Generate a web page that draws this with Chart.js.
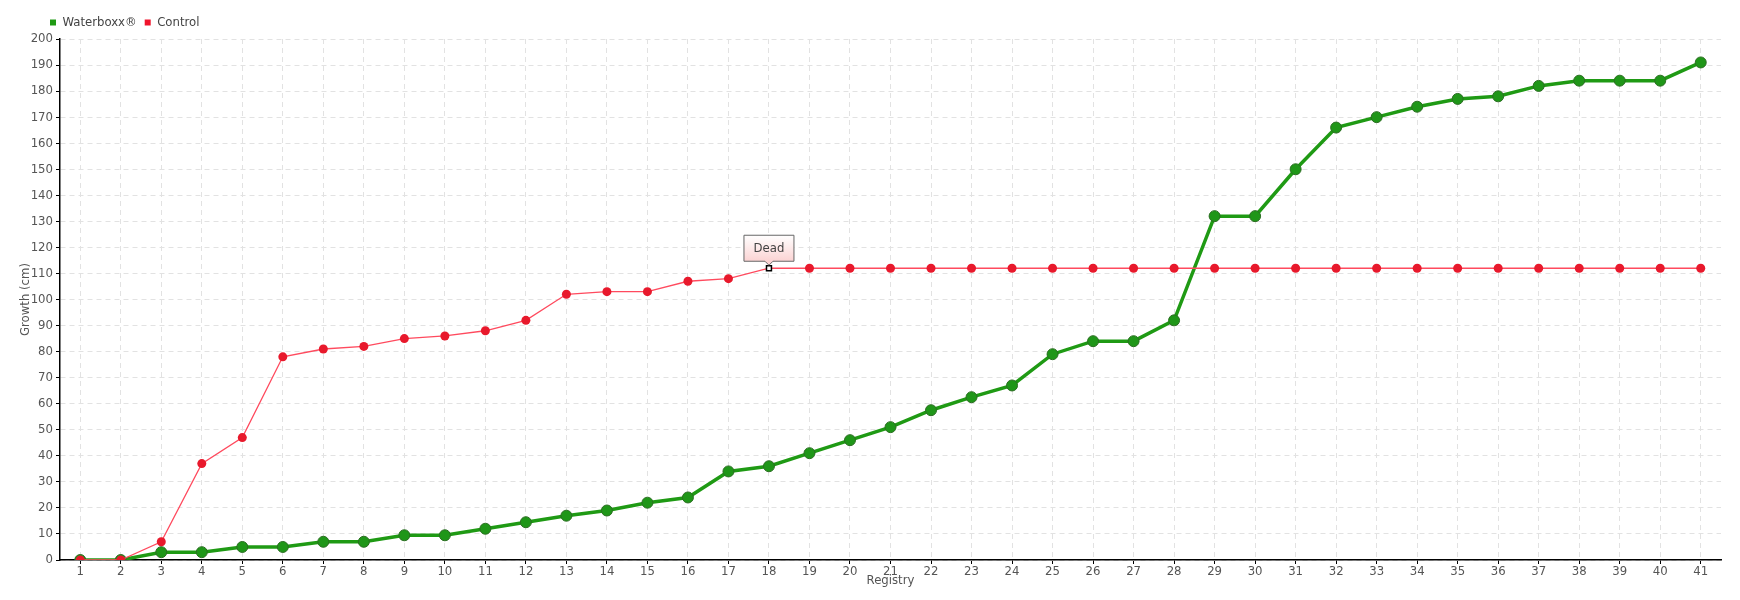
<!DOCTYPE html>
<html>
<head>
<meta charset="utf-8">
<script src="https://cdn.jsdelivr.net/npm/chart.js@4.4.0/dist/chart.umd.min.js"></script>
<style>
  html, body { margin: 0; padding: 0; background: #fff; }
  canvas { display: block; }
</style>
</head>
<body>
<canvas id="myChart" width="1740" height="600"></canvas>
<script>
// registry numbers on the x axis
var registry = [1,2,3,4,5,6,7,8,9,10,11,12,13,14,15,16,17,18,19,20,21,22,23,24,25,26,27,28,29,30,31,32,33,34,35,36,37,38,39,40,41];

// growth in cm
var waterboxx = [0,0,3,3,5,5,7,7,9.5,9.5,12,14.5,17,19,22,24,34,36,41,46,51,57.5,62.5,67,79,84,84,92,132,132,150,166,170,174,177,178,182,184,184,184,191];
var control = [0,0,7,37,47,78,81,82,85,86,88,92,102,103,103,107,108,112,112,112,112,112,112,112,112,112,112,112,112,112,112,112,112,112,112,112,112,112,112,112,112];

var seriesNames = ['Waterboxx®', 'Control'];
var legendColors = ['#1f9a14', '#f0142c'];

var deadIndex = 17;
var deadLabel = 'Dead';

var fontFamily = "'DejaVu Sans Condensed', 'Liberation Sans Narrow', 'DejaVu Sans', sans-serif";
Chart.defaults.font.family = fontFamily;
Chart.defaults.color = '#555';

// label box over the control point where the plant died
var deadMarker = {
  id: 'deadMarker',
  afterDatasetsDraw: function(chart) {
    var pt = chart.getDatasetMeta(1).data[deadIndex];
    var ctx = chart.ctx;
    var w = 50, h = 26;
    var cx = pt.x, x0 = cx - w / 2, x1 = cx + w / 2;
    var yb = pt.y - 7, yt = yb - h;
    ctx.save();
    var g = ctx.createLinearGradient(0, yt, 0, yb);
    g.addColorStop(0, '#ffffff');
    g.addColorStop(1, '#fbd3d3');
    ctx.beginPath();
    ctx.moveTo(x0, yt);
    ctx.lineTo(x1, yt);
    ctx.lineTo(x1, yb);
    ctx.lineTo(cx + 4, yb);
    ctx.lineTo(cx, pt.y - 3);
    ctx.lineTo(cx - 4, yb);
    ctx.lineTo(x0, yb);
    ctx.closePath();
    ctx.fillStyle = g;
    ctx.fill();
    ctx.strokeStyle = '#666';
    ctx.lineWidth = 1;
    ctx.stroke();
    ctx.fillStyle = '#444';
    ctx.font = '13px ' + fontFamily;
    ctx.textAlign = 'center';
    ctx.textBaseline = 'middle';
    ctx.fillText(deadLabel, cx, (yt + yb) / 2);
    ctx.restore();
  }
};

// move the legend in line with the axis
var legendShift = {
  id: 'legendShift',
  afterLayout: function(chart) {
    chart.legend.left = 42;
  }
};

var ctx = document.getElementById('myChart');
var config = {
  type: 'line',
  data: {
    labels: registry,
    datasets: [{
      label: seriesNames[0],
      data: waterboxx,
      order: 1,
      borderColor: '#1f9a14',
      borderWidth: 3.5,
      pointRadius: 5.5,
      pointBackgroundColor: '#1f9618',
      pointBorderColor: '#2b6e22',
      pointBorderWidth: 1,
      tension: 0
    }, {
      label: seriesNames[1],
      data: control,
      order: 0,
      borderColor: '#ff4a5e',
      borderWidth: 1.3,
      pointRadius: function(c) { return c.dataIndex === deadIndex ? 3.5 : 4.5; },
      pointStyle: function(c) { return c.dataIndex === deadIndex ? 'rect' : 'circle'; },
      pointBackgroundColor: function(c) { return c.dataIndex === deadIndex ? '#fff' : '#e8192c'; },
      pointBorderColor: function(c) { return c.dataIndex === deadIndex ? '#000' : '#e8192c'; },
      pointBorderWidth: function(c) { return c.dataIndex === deadIndex ? 1.5 : 0; },
      tension: 0
    }]
  },
  options: {
    responsive: false,
    animation: false,
    layout: { padding: { top: 8, right: 19, left: 0, bottom: 0 } },
    plugins: {
      tooltip: { enabled: false },
      legend: {
        position: 'top',
        align: 'start',
        labels: {
          usePointStyle: true,
          boxWidth: 6,
          boxHeight: 6,
          padding: 8,
          color: '#444',
          font: { size: 13 },
          generateLabels: function(chart) {
            return chart.data.datasets.map(function(ds, i) {
              return {
                text: ds.label,
                fillStyle: legendColors[i],
                strokeStyle: legendColors[i],
                lineWidth: 0,
                pointStyle: 'rect',
                datasetIndex: i,
                fontColor: '#444'
              };
            });
          }
        }
      }
    },
    scales: {
      x: {
        offset: true,
        grid: {
          color: '#e2e2e2',
          offset: false,
          tickLength: 4,
          tickColor: '#000'
        },
        border: { color: '#000', width: 1.5, dash: [5, 4] },
        ticks: { color: '#555', font: { size: 13 }, padding: 0, maxRotation: 0, autoSkip: false },
        title: { display: true, text: 'Registry', color: '#555', font: { size: 13 }, padding: { top: 0, bottom: 12 } },
        afterFit: function(s) { s.height = 40; }
      },
      y: {
        min: 0,
        max: 200,
        grid: {
          color: '#e2e2e2',
          tickLength: 4,
          tickColor: '#000'
        },
        border: { color: '#000', width: 1.5, dash: [5, 4] },
        ticks: { stepSize: 10, color: '#555', font: { size: 13 }, padding: 3 },
        title: { display: true, text: 'Growth (cm)', color: '#555', font: { size: 13 }, padding: { top: 18, bottom: 0 } },
        afterFit: function(s) { s.width = 60; }
      }
    }
  },
  plugins: [deadMarker, legendShift]
};
var myChart = new Chart(ctx, config);
</script>
</body>
</html>
